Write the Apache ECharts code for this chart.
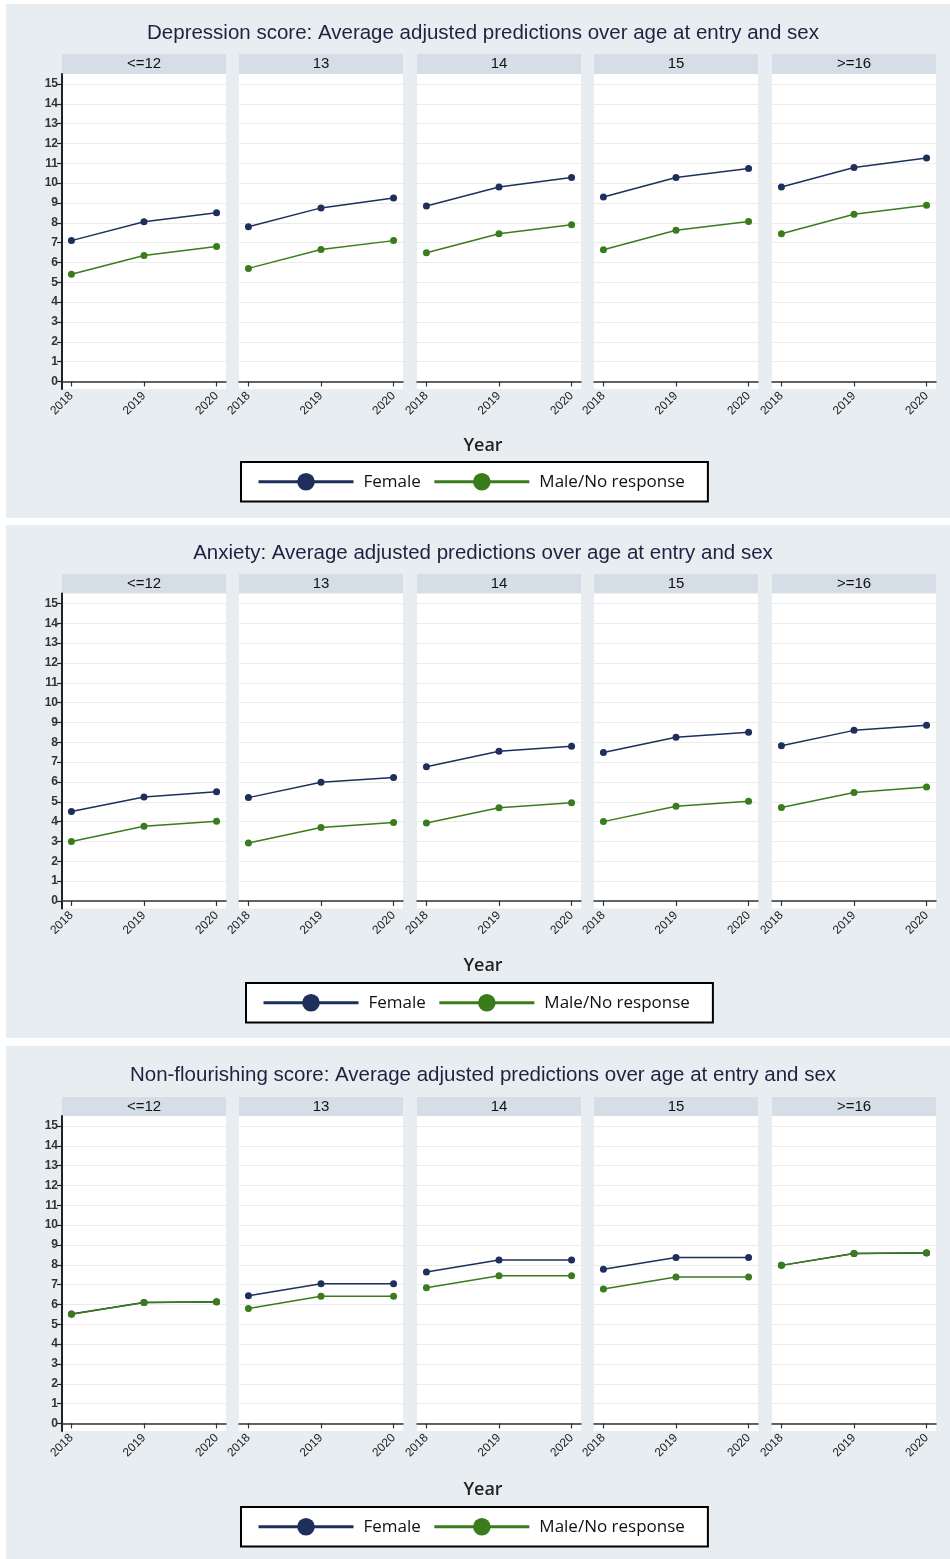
<!DOCTYPE html>
<html>
<head>
<meta charset="utf-8">
<script src="https://cdn.jsdelivr.net/npm/echarts@6/dist/echarts.min.js"></script>
<style>
html,body{margin:0;padding:0;background:#fff;}
#chart{width:950px;height:1559px;}
</style>
</head>
<body>
<div id="chart"></div>
<script>
// ---------- DATA ----------
const ageGroups = ['<=12', '13', '14', '15', '>=16'];
const years = [2018, 2019, 2020];
const yTicks = [0, 1, 2, 3, 4, 5, 6, 7, 8, 9, 10, 11, 12, 13, 14, 15];
const seriesNames = ['Female', 'Male/No response'];
const panelTitles = [
  'Depression score: Average adjusted predictions over age at entry and sex',
  'Anxiety: Average adjusted predictions over age at entry and sex',
  'Non-flourishing score: Average adjusted predictions over age at entry and sex'
];
const xAxisTitle = 'Year';

// values per age group: [2018, 2019, 2020]
const depressionFemale = [[7.10, 8.05, 8.50], [7.80, 8.75, 9.25], [8.85, 9.80, 10.28], [9.30, 10.28, 10.74], [9.80, 10.79, 11.26]];
const depressionMale   = [[5.40, 6.35, 6.80], [5.70, 6.65, 7.10], [6.49, 7.45, 7.90], [6.64, 7.62, 8.07], [7.45, 8.43, 8.88]];
const anxietyFemale    = [[4.51, 5.24, 5.50], [5.21, 5.98, 6.23], [6.77, 7.55, 7.80], [7.48, 8.25, 8.50], [7.83, 8.60, 8.86]];
const anxietyMale      = [[3.00, 3.77, 4.02], [2.92, 3.70, 3.96], [3.93, 4.70, 4.95], [4.00, 4.78, 5.03], [4.71, 5.47, 5.74]];
const nonflourFemale   = [[5.52, 6.10, 6.13], [6.44, 7.04, 7.04], [7.63, 8.24, 8.24], [7.78, 8.37, 8.37], [7.97, 8.57, 8.59]];
const nonflourMale     = [[5.50, 6.10, 6.12], [5.80, 6.41, 6.41], [6.84, 7.45, 7.45], [6.78, 7.38, 7.38], [7.97, 8.57, 8.60]];

// ---------- LAYOUT / STYLE ----------
const colors = {Female: '#1d2f5a', 'Male/No response': '#3a7b1c'};
const panelLayout = [
  {female: depressionFemale, male: depressionMale, bgTop: 4,    bgBottom: 518,  titleY: 33,   headTop: 54,   gridTop: 74,    yearY: 446,  legendLeft: 241, legendTop: 462},
  {female: anxietyFemale,    male: anxietyMale,    bgTop: 525,  bgBottom: 1038, titleY: 553,  headTop: 574,  gridTop: 593.5, yearY: 966,  legendLeft: 246, legendTop: 983},
  {female: nonflourFemale,   male: nonflourMale,   bgTop: 1046, bgBottom: 1559, titleY: 1075, headTop: 1097, gridTop: 1116,  yearY: 1490, legendLeft: 241, legendTop: 1507}
];
const facetLefts = [62, 239, 417, 594, 772];
const facetWidth = 164;
const gridHeight = 315;

const grids = [], xAxes = [], yAxes = [], series = [], graphics = [], legends = [];

panelLayout.forEach((p, pi) => {
  graphics.push({type: 'rect', z: -10, shape: {x: 6, y: p.bgTop, width: 944, height: p.bgBottom - p.bgTop}, style: {fill: '#e8edf1'}});
  graphics.push({type: 'text', z: 10, x: 483, y: p.titleY, style: {text: panelTitles[pi], font: '20.5px "Liberation Sans", Arial, sans-serif', fill: '#1b2340', align: 'center', verticalAlign: 'middle'}});
  graphics.push({type: 'text', z: 10, x: 483, y: p.yearY, style: {text: xAxisTitle, font: '600 18px "Open Sans", sans-serif', fill: '#222', align: 'center', verticalAlign: 'middle'}});

  ageGroups.forEach((ag, fi) => {
    const idx = pi * 5 + fi;
    const left = facetLefts[fi];
    graphics.push({type: 'rect', z: -5, shape: {x: left, y: p.headTop, width: facetWidth, height: p.gridTop - p.headTop}, style: {fill: '#d5dee7'}});
    graphics.push({type: 'text', z: 10, x: left + facetWidth / 2, y: (p.headTop + p.gridTop) / 2, style: {text: ag, font: '15px "Liberation Sans", Arial, sans-serif', fill: '#111', align: 'center', verticalAlign: 'middle'}});

    grids.push({left: left, top: p.gridTop, width: facetWidth, height: gridHeight, show: true, backgroundColor: '#fff', borderWidth: 0, containLabel: false});
    xAxes.push({
      type: 'value', gridIndex: idx, min: 2017.87, max: 2020.13,
      axisLine: {show: true, lineStyle: {color: '#333', width: 1.5}},
      axisTick: {show: true, length: 5, lineStyle: {color: '#333', width: 1.2}, customValues: years},
      axisLabel: {show: true, customValues: years, rotate: 45, fontSize: 12, margin: 5, color: '#222',
                  fontFamily: '"Liberation Sans Narrow", "Liberation Sans", Arial, sans-serif', formatter: v => String(v)},
      splitLine: {show: false}
    });
    const first = fi === 0;
    yAxes.push({
      type: 'value', gridIndex: idx, min: -0.38, max: 15.5,
      axisLine: {show: first, lineStyle: {color: '#222', width: 2}},
      axisTick: {show: first, length: 5, inside: false, lineStyle: {color: '#222', width: 1.2}, customValues: yTicks},
      axisLabel: {show: first, customValues: yTicks, fontSize: 12, fontWeight: 'bold', color: '#333', margin: 4,
                  fontFamily: '"Liberation Sans Narrow", "Liberation Sans", Arial, sans-serif'},
      splitLine: {show: true, lineStyle: {color: '#ebebeb', width: 1}}
    });
    [['Female', p.female], ['Male/No response', p.male]].forEach(([name, arr]) => {
      series.push({
        type: 'line', name: name, xAxisIndex: idx, yAxisIndex: idx,
        data: years.map((y, k) => [y, arr[fi][k]]),
        symbol: 'circle', symbolSize: 7, showSymbol: true,
        lineStyle: {color: colors[name], width: 1.5},
        itemStyle: {color: colors[name]},
        emphasis: {disabled: true}, animation: false
      });
    });
  });

  legends.push({
    left: p.legendLeft, top: p.legendTop, orient: 'horizontal', selectedMode: false,
    data: seriesNames,
    itemWidth: 95, itemHeight: 22, itemGap: 12,
    backgroundColor: '#fff', borderColor: '#000', borderWidth: 2, borderRadius: 0,
    padding: [11, 23, 11, 16],
    lineStyle: {width: 3},
    textStyle: {fontFamily: '"Open Sans", sans-serif', fontSize: 17, color: '#111', padding: [0, 0, 0, 5]}
  });
});

const chart = echarts.init(document.getElementById('chart'), null, {renderer: 'canvas'});
chart.setOption({
  backgroundColor: '#fff',
  animation: false,
  grid: grids,
  xAxis: xAxes,
  yAxis: yAxes,
  legend: legends,
  series: series,
  graphic: graphics
});
</script>
</body>
</html>
